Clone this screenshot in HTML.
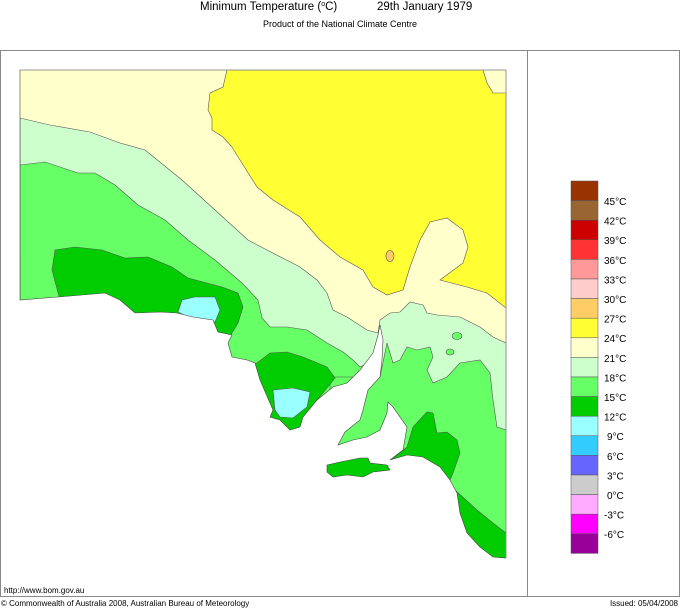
<!DOCTYPE html>
<html><head><meta charset="utf-8"><style>
html,body{margin:0;padding:0;background:#fff;width:680px;height:608px;overflow:hidden}
svg{display:block}
text{font-family:"Liberation Sans",sans-serif;fill:#000}
</style></head><body>
<svg width="680" height="608" viewBox="0 0 680 608" xmlns="http://www.w3.org/2000/svg">
<defs>
<clipPath id="land"><polygon id="lp" points="20,70 506,70 506,558 493,557 480,547 467,533 460,513 457,493 450,480 440,467 423,457 407,455 390,460 403,450 407,427 393,407 388,402 387,413 380,430 367,437 353,440 338,445 345,432 360,420 363,410 368,390 380,377 382,360 383,340 380,325 378,335 373,353 360,370 347,383 333,387 317,400 303,417 300,427 290,430 280,420 270,417 273,410 260,380 255,363 247,360 232,357 228,343 232,335 218,332 213,320 193,317 177,313 160,312 135,313 120,300 105,293 70,296 20,300"/></clipPath>
</defs>
<!-- title -->
<text x="200" y="10" font-size="11.5">Minimum Temperature (<tspan font-size="7" dy="-4">o</tspan><tspan dy="4">C)</tspan></text>
<text x="377" y="10" font-size="11.5">29th January 1979</text>
<text x="340" y="27" font-size="9" text-anchor="middle">Product of the National Climate Centre</text>
<!-- frame -->
<rect x="0.5" y="50.5" width="679" height="546" fill="none" stroke="#888" stroke-width="1"/>
<line x1="527.5" y1="50" x2="527.5" y2="597" stroke="#888"/>
<!-- map -->
<g clip-path="url(#land)" stroke="#555" stroke-width="0.6">
<rect x="20" y="70" width="486" height="490" fill="#ffffcc" stroke="none"/>
<polygon fill="#ffff33" points="227,70 223,87 210,93 208,110 212,118 212,130 223,137 232,147 240,160 257,187 273,200 300,217 320,240 340,257 363,270 373,287 387,295 403,290 410,267 420,240 430,222 447,218 463,230 468,247 463,263 440,280 467,287 487,293 506,308 506,93 493,93 487,83 483,70"/>
<ellipse cx="390" cy="256" rx="4" ry="5.5" fill="#ffcc66"/>
<polygon fill="#ccffcc" points="20,118 50,125 90,132 120,143 145,150 182,180 215,210 248,240 267,250 300,267 317,280 327,293 333,310 347,317 367,330 378,333 380,320 390,313 400,312 410,302 423,305 427,313 437,315 460,317 480,327 493,337 506,343 506,560 20,560"/>
<polygon fill="#66ff66" points="20,165 45,162 78,173 95,173 115,185 138,205 165,220 188,240 215,260 242,283 258,300 262,318 270,327 287,327 307,330 327,343 343,352 353,360 360,367 375,360 375,560 20,560"/>
<polygon fill="#66ff66" points="380,377 387,343 393,363 400,360 407,347 417,350 430,347 433,357 427,370 433,383 447,377 460,363 480,360 490,373 493,400 497,427 506,430 506,560 330,560 330,377"/>
<ellipse cx="457" cy="336" rx="5" ry="3.5" fill="#66ff66"/>
<ellipse cx="450" cy="352" rx="4" ry="3" fill="#66ff66"/>
<polygon fill="#00cc00" points="52,270 55,250 75,247 102,250 125,258 148,257 172,267 188,278 222,287 238,293 243,307 238,323 232,333 225,345 200,330 150,320 100,305 60,300"/>
<polygon fill="#00cc00" points="250,365 257,363 270,353 287,352 303,357 327,367 335,378 327,388 317,400 300,440 250,440"/>
<polygon fill="#00cc00" points="385,465 407,447 413,427 427,412 433,413 437,433 447,432 457,440 460,453 453,473 450,480 440,470 420,460"/>
<polygon fill="#00cc00" points="455,490 477,510 493,523 506,533 506,560 450,560"/>
<polygon fill="#99ffff" points="182,300 195,297 215,297 220,310 215,322 195,320 178,312"/>
<polygon fill="#99ffff" points="273,390 293,388 310,392 307,407 293,418 280,417 275,410"/>
<polygon fill="#99ffff" points="454,512 460,512 461,526 456,524"/>
</g>
<use href="#lp" fill="none" stroke="#444" stroke-width="0.6"/>
<polygon fill="#00cc00" stroke="#444" stroke-width="0.6" points="327,465 340,462 360,458 368,458 370,463 387,465 390,470 373,472 363,477 347,475 333,477 327,472"/>
<line x1="20" y1="70" x2="506" y2="70" stroke="#999" stroke-width="0.8"/>
<line x1="506" y1="70" x2="506" y2="558" stroke="#999" stroke-width="0.8"/>
<!-- legend -->
<g stroke="#555" stroke-width="0.5">
<rect x="571" y="181" width="27" height="19.6" fill="#993300"/>
<rect x="571" y="200.6" width="27" height="19.6" fill="#996633"/>
<rect x="571" y="220.2" width="27" height="19.6" fill="#cc0000"/>
<rect x="571" y="239.8" width="27" height="19.6" fill="#ff3333"/>
<rect x="571" y="259.4" width="27" height="19.6" fill="#ff9999"/>
<rect x="571" y="279" width="27" height="19.6" fill="#ffcccc"/>
<rect x="571" y="298.6" width="27" height="19.6" fill="#ffcc66"/>
<rect x="571" y="318.2" width="27" height="19.6" fill="#ffff33"/>
<rect x="571" y="337.8" width="27" height="19.6" fill="#ffffcc"/>
<rect x="571" y="357.4" width="27" height="19.6" fill="#ccffcc"/>
<rect x="571" y="377" width="27" height="19.6" fill="#66ff66"/>
<rect x="571" y="396.6" width="27" height="19.6" fill="#00cc00"/>
<rect x="571" y="416.2" width="27" height="19.6" fill="#99ffff"/>
<rect x="571" y="435.8" width="27" height="19.6" fill="#33ccff"/>
<rect x="571" y="455.4" width="27" height="19.6" fill="#6666ff"/>
<rect x="571" y="475" width="27" height="19.6" fill="#cccccc"/>
<rect x="571" y="494.6" width="27" height="19.6" fill="#ffaaff"/>
<rect x="571" y="514.2" width="27" height="19.6" fill="#ff00ff"/>
<rect x="571" y="533.8" width="27" height="19.6" fill="#990099"/>
</g>
<g font-size="10">
<text x="604" y="205">45°C</text>
<text x="604" y="224.6">42°C</text>
<text x="604" y="244.2">39°C</text>
<text x="604" y="263.8">36°C</text>
<text x="604" y="283.4">33°C</text>
<text x="604" y="303">30°C</text>
<text x="604" y="322.6">27°C</text>
<text x="604" y="342.2">24°C</text>
<text x="604" y="361.8">21°C</text>
<text x="604" y="381.4">18°C</text>
<text x="604" y="401">15°C</text>
<text x="604" y="420.6">12°C</text>
<text x="607" y="440.2">9°C</text>
<text x="607" y="459.8">6°C</text>
<text x="607" y="479.4">3°C</text>
<text x="607" y="499">0°C</text>
<text x="604" y="518.6">-3°C</text>
<text x="604" y="538.2">-6°C</text>
</g>
<!-- footer -->
<text x="4" y="593" font-size="8">http://www.bom.gov.au</text>
<text x="1" y="606" font-size="8">© Commonwealth of Australia 2008, Australian Bureau of Meteorology</text>
<text x="678" y="606" font-size="8" text-anchor="end">Issued: 05/04/2008</text>
</svg>
</body></html>
